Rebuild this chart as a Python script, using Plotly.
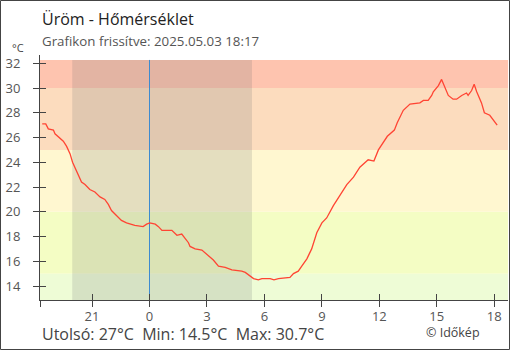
import plotly.graph_objects as go

# ---- data ----
times = [
    "2025-05-02 18:24", "2025-05-02 18:35", "2025-05-02 18:43", "2025-05-02 18:59",
    "2025-05-02 19:04", "2025-05-02 19:17", "2025-05-02 19:30", "2025-05-02 19:40",
    "2025-05-02 19:51", "2025-05-02 19:59", "2025-05-02 20:07", "2025-05-02 20:17",
    "2025-05-02 20:27", "2025-05-02 20:38", "2025-05-02 20:53", "2025-05-02 21:09",
    "2025-05-02 21:25", "2025-05-02 21:40", "2025-05-02 21:51", "2025-05-02 22:01",
    "2025-05-02 22:17", "2025-05-02 22:32", "2025-05-02 22:48", "2025-05-02 23:14",
    "2025-05-02 23:40", "2025-05-02 23:51", "2025-05-03 00:01", "2025-05-03 00:18",
    "2025-05-03 00:28", "2025-05-03 00:39", "2025-05-03 01:10", "2025-05-03 01:26",
    "2025-05-03 01:41", "2025-05-03 01:52", "2025-05-03 02:02", "2025-05-03 02:07",
    "2025-05-03 02:23", "2025-05-03 02:44", "2025-05-03 03:05", "2025-05-03 03:20",
    "2025-05-03 03:36", "2025-05-03 03:57", "2025-05-03 04:18", "2025-05-03 04:49",
    "2025-05-03 05:00", "2025-05-03 05:15", "2025-05-03 05:26", "2025-05-03 05:41",
    "2025-05-03 05:52", "2025-05-03 06:18", "2025-05-03 06:30", "2025-05-03 06:44",
    "2025-05-03 07:20", "2025-05-03 07:31", "2025-05-03 07:46", "2025-05-03 07:57",
    "2025-05-03 08:13", "2025-05-03 08:28", "2025-05-03 08:44", "2025-05-03 09:00",
    "2025-05-03 09:15", "2025-05-03 09:36", "2025-05-03 09:57", "2025-05-03 10:18",
    "2025-05-03 10:39", "2025-05-03 10:59", "2025-05-03 11:25", "2025-05-03 11:43",
    "2025-05-03 11:57", "2025-05-03 12:25", "2025-05-03 12:47", "2025-05-03 12:56",
    "2025-05-03 13:15", "2025-05-03 13:36", "2025-05-03 14:07", "2025-05-03 14:18",
    "2025-05-03 14:33", "2025-05-03 14:44", "2025-05-03 14:49", "2025-05-03 15:05",
    "2025-05-03 15:15", "2025-05-03 15:26", "2025-05-03 15:36", "2025-05-03 15:51",
    "2025-05-03 16:02", "2025-05-03 16:18", "2025-05-03 16:33", "2025-05-03 16:38",
    "2025-05-03 16:49", "2025-05-03 16:57", "2025-05-03 17:05", "2025-05-03 17:20",
    "2025-05-03 17:29", "2025-05-03 17:46", "2025-05-03 17:57", "2025-05-03 18:09",
]
temps = [
    27.1, 27.1, 26.7, 26.6, 26.3, 26.0, 25.7, 25.3,
    24.7, 24.0, 23.5, 23.0, 22.4, 22.2, 21.8, 21.6,
    21.2, 21.0, 20.6, 20.1, 19.7, 19.3, 19.1, 18.9,
    18.8, 19.0, 19.1, 19.0, 18.8, 18.5, 18.5, 18.1,
    18.2, 17.8, 17.5, 17.2, 17.0, 16.9, 16.4, 16.1,
    15.6, 15.5, 15.3, 15.2, 15.1, 14.8, 14.6, 14.5,
    14.6, 14.6, 14.5, 14.6, 14.7, 15.0, 15.2, 15.6,
    16.2, 17.0, 18.3, 19.1, 19.5, 20.5, 21.4, 22.2,
    22.8, 23.6, 24.2, 24.1, 25.0, 26.1, 26.6, 27.2,
    28.2, 28.7, 28.8, 29.0, 29.0, 29.4, 29.7, 30.2,
    30.7, 30.0, 29.4, 29.1, 29.1, 29.4, 29.6, 29.4,
    29.8, 30.3, 29.7, 28.8, 28.0, 27.8, 27.4, 27.0,
]

x_tick_vals = ["2025-05-02 18:17", "2025-05-02 21:00", "2025-05-03 00:00", "2025-05-03 03:00",
               "2025-05-03 06:00", "2025-05-03 09:00", "2025-05-03 12:00", "2025-05-03 15:00",
               "2025-05-03 18:00"]
x_tick_text = ["", "21", "0", "3", "6", "9", "12", "15", "18"]
y_tick_vals = [14, 16, 18, 20, 22, 24, 26, 28, 30, 32]

band_edges = [12.87, 15, 20, 25, 30, 32.27]
band_colors = ["#EEFCD6", "#F4FDC4", "#FFF7D0", "#FCDCBE", "#FEC4AF"]

night_start = "2025-05-02 19:58"
night_end = "2025-05-03 05:21"
midnight = "2025-05-03 00:00"

title = "Üröm - Hőmérséklet"
subtitle = "Grafikon frissítve: 2025.05.03 18:17"
footer = "Utolsó: 27°C  Min: 14.5°C  Max: 30.7°C"
credit = "© Időkép"

x_range = ["2025-05-02 18:17", "2025-05-03 18:43"]
y_range = [12.87, 32.67]

# ---- layout geometry (pixels) ----
W, H = 510, 350
L, R, T, B = 40, 2, 55, 50
PW, PH = W - L - R, H - T - B


def px(xp):
    return (xp - L) / PW


def py(yp):
    return (H - B - yp) / PH


fig = go.Figure()
fig.add_trace(go.Scatter(x=times, y=temps, mode="lines",
                         line=dict(color="#FF4433", width=1.3),
                         hoverinfo="skip", showlegend=False))
# invisible trace on overlay axes (for the inner half of crossing ticks)
fig.add_trace(go.Scatter(x=[times[0]], y=[temps[0]], xaxis="x2", yaxis="y2",
                         mode="markers", marker=dict(opacity=0),
                         hoverinfo="skip", showlegend=False))

shapes = []
for i, c in enumerate(band_colors):
    shapes.append(dict(type="rect", xref="paper", yref="y", x0=0, x1=1,
                       y0=band_edges[i], y1=band_edges[i + 1],
                       fillcolor=c, line=dict(width=0), layer="below"))
shapes.append(dict(type="rect", xref="x", yref="y", x0=night_start, x1=night_end,
                   y0=band_edges[0], y1=band_edges[-1],
                   fillcolor="rgba(95,100,105,0.17)", line=dict(width=0), layer="below"))
shapes.append(dict(type="line", xref="x", yref="y", x0=midnight, x1=midnight,
                   y0=band_edges[0], y1=band_edges[-1],
                   line=dict(color="#3D8BD0", width=1), layer="below"))
# outer frame
shapes.append(dict(type="rect", xref="paper", yref="paper",
                   x0=px(0.5), x1=px(W - 0.5), y0=py(H - 0.5), y1=py(0.5),
                   line=dict(color="#444444", width=1), fillcolor="rgba(0,0,0,0)"))

annotations = [
    dict(text=title, x=px(40), y=py(19), xref="paper", yref="paper",
         xanchor="left", yanchor="middle", showarrow=False,
         font=dict(size=16, color="#222222")),
    dict(text=subtitle, x=px(40), y=py(41), xref="paper", yref="paper",
         xanchor="left", yanchor="middle", showarrow=False,
         font=dict(size=13.3, color="#555555")),
    dict(text="°C", x=px(26), y=py(47.5), xref="paper", yref="paper",
         xanchor="right", yanchor="middle", showarrow=False,
         font=dict(size=11, color="#444444")),
    dict(text=footer, x=px(40), y=py(334), xref="paper", yref="paper",
         xanchor="left", yanchor="middle", showarrow=False,
         font=dict(size=16, color="#444444")),
    dict(text=credit, x=px(482), y=py(332), xref="paper", yref="paper",
         xanchor="right", yanchor="middle", showarrow=False,
         font=dict(size=12.5, color="#444444")),
]

axis_common = dict(showgrid=False, zeroline=False, linecolor="#444444", linewidth=1,
                   tickcolor="#444444", tickwidth=1, ticklen=6, fixedrange=True)

fig.update_layout(
    width=W, height=H,
    margin=dict(l=L, r=R, t=T, b=B, pad=0),
    paper_bgcolor="white", plot_bgcolor="white",
    font=dict(family="Open Sans", color="#444444"),
    showlegend=False,
    shapes=shapes,
    annotations=annotations,
    xaxis=dict(**axis_common, type="date", range=x_range, showline=True,
               ticks="outside", tickmode="array", tickvals=x_tick_vals,
               ticktext=x_tick_text, tickfont=dict(size=13, color="#555555"),
               ticklabelstandoff=-2),
    yaxis=dict(**axis_common, range=y_range, showline=True, ticks="outside",
               tickmode="array", tickvals=y_tick_vals,
               tickfont=dict(size=13, color="#555555"), ticklabelstandoff=10),
    xaxis2=dict(**axis_common, type="date", range=x_range, overlaying="x",
                matches="x", showline=False, ticks="inside", tickmode="array",
                tickvals=x_tick_vals, showticklabels=False, side="bottom", anchor="y2"),
    yaxis2=dict(**axis_common, range=y_range, overlaying="y", matches="y",
                showline=False, ticks="inside", tickmode="array",
                tickvals=y_tick_vals, showticklabels=False, side="left", anchor="x2"),
)

fig.write_html("out.html", config={"displayModeBar": False})
